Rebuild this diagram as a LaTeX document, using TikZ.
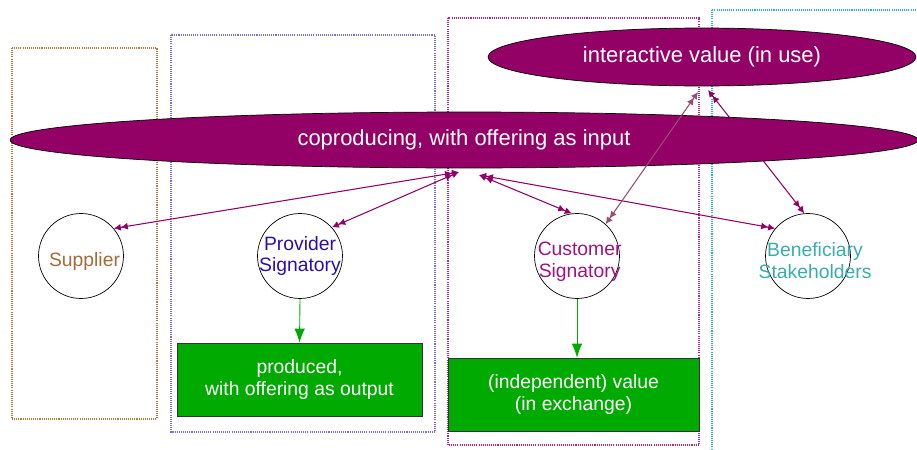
\documentclass[tikz,border=0pt]{standalone}
\usepackage{fontspec}
\setmainfont{Liberation Sans}
\usepackage{xcolor}
\usepackage{tikz}
\usetikzlibrary{shapes,arrows.meta}

\definecolor{plum}{HTML}{930066}
\definecolor{mauve}{HTML}{9C4A72}
\definecolor{leaf}{HTML}{00AA00}
\definecolor{supcol}{HTML}{A26B39}
\definecolor{procol}{HTML}{2B0FA6}
\definecolor{cuscol}{HTML}{A0127E}
\definecolor{bencol}{HTML}{3AACAC}
\definecolor{supfr}{HTML}{B87B3D}
\definecolor{profr}{HTML}{7A6EDC}
\definecolor{cusfr}{HTML}{B0288A}
\definecolor{benfr}{HTML}{2CB3B8}

\begin{document}
\begin{tikzpicture}[%
  x=0.02cm,y=-0.02cm,
  frame/.style={line width=0.6pt,dash pattern=on 0.6pt off 0.6pt},
  activity/.style={ellipse,draw=black,fill=plum,text=white,inner sep=0pt,font=\fontsize{12.5}{15}\selectfont},
  actor/.style={circle,draw=black,thin,minimum size=1.7cm,inner sep=0pt},
  tag/.style={font=\fontsize{11}{12.5}\selectfont,align=center},
  result/.style={draw=black!80,fill=leaf,text=white,align=center,minimum height=1.46cm,inner sep=0pt,font=\fontsize{11}{12.5}\selectfont},
  link/.style={draw=plum,line width=0.6pt,{Latex[length=4pt,width=4pt] Latex[length=4pt,width=4pt]}-{Latex[length=4pt,width=4pt] Latex[length=4pt,width=4pt]}},
  yield/.style={draw=leaf,line width=0.5pt,-{Latex[length=8pt,width=6pt]}}
]
  \useasboundingbox (0,0) rectangle (917,450);

  % parties
  \draw [frame,draw=supfr] (12,48) rectangle (157,419);
  \draw [frame,draw=profr] (171,35) rectangle (435,432);
  \draw [frame,draw=cusfr] (448,18) rectangle (699,445);
  \draw [frame,draw=benfr] (712,10) rectangle (940,470);

  \node (sup) at (81,256)  [actor,label={[tag,text=supcol,xshift=2pt,yshift=-3pt]center:Supplier}] {};
  \node (pro) at (300,256) [actor,label={[tag,text=procol]center:{Provider\\Signatory}}] {};
  \node (cus) at (577,256) [actor,label={[tag,text=cuscol,xshift=1.5pt,yshift=-3.5pt]center:{Customer\\Signatory}}] {};
  \node (ben) at (808,256) [actor,label={[tag,text=bencol,xshift=4pt,yshift=-2.5pt]center:{Beneficiary\\Stakeholders}}] {};

  \node (prod)  at (299.5,379.5) [result,minimum width=4.9cm] {produced,\\with offering as output};
  \node (indep) at (573.5,394.5) [result,minimum width=5.02cm] {(independent) value\\(in exchange)};

  \coordinate (cpL) at (459,172);
  \coordinate (cpR) at (479,175);
  \coordinate (ivL) at (698,92);
  \coordinate (ivR) at (708,90);

  \draw [link] (ivR) -- (ben.95);

  \node (cop)  at (464,140) [activity,minimum width=18.16cm,minimum height=1.12cm] {coproducing, with offering as input};
  \node (ival) at (702,57)  [activity,minimum width=8.56cm,minimum height=1.16cm] {interactive value (in use)};

  \draw [link] (cpL) -- (sup.40);
  \draw [link] (cpL) -- (pro.42);
  \draw [link] (cpR) -- (cus.97);
  \draw [link] (cpR) -- (ben.140);
  \draw [link,draw=mauve] (ivL) -- (cus.48);

  \draw [yield] (pro.south) -- (prod.north);
  \draw [yield] (cus.south) -- (cus.south |- indep.north);
\end{tikzpicture}
\end{document}
